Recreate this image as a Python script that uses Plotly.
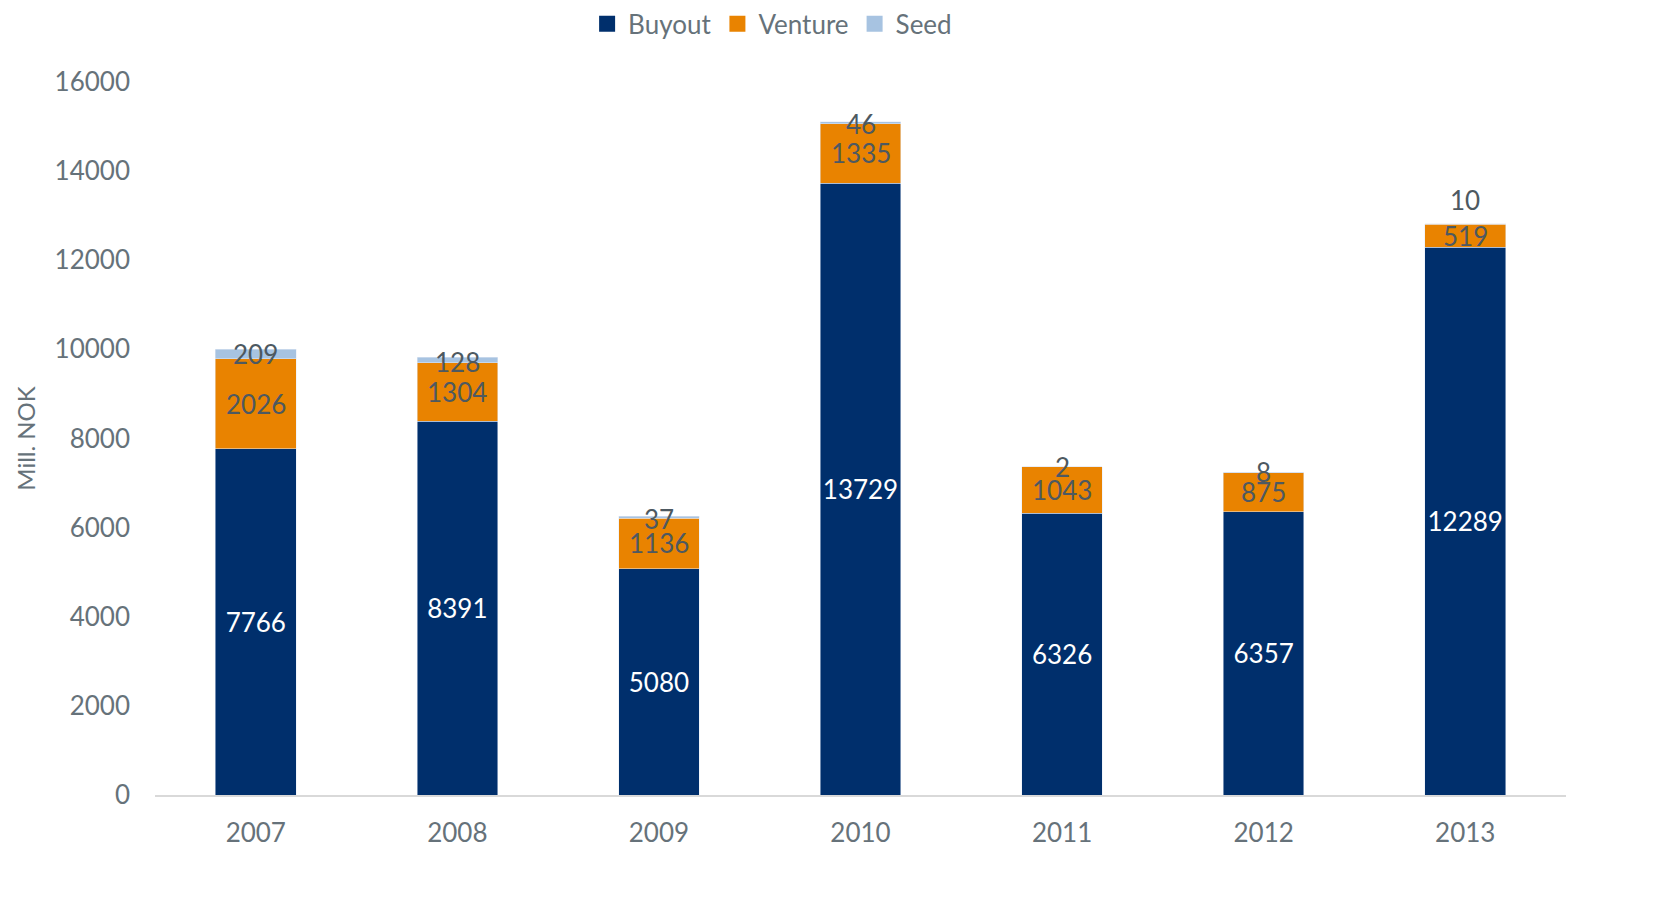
import plotly.graph_objects as go

years = ["2007", "2008", "2009", "2010", "2011", "2012", "2013"]
buyout = [7766, 8391, 5080, 13729, 6326, 6357, 12289]
venture = [2026, 1304, 1136, 1335, 1043, 875, 519]
seed = [209, 128, 37, 46, 2, 8, 10]

C_BUY = "#002F6C"
C_VEN = "#E98300"
C_SEED = "#A7C3E1"
C_TXT = "#4D5961"
C_TICK = "#66727A"
FONT = "Lato"

# small per-label vertical nudges (pixels) for the seed labels
seed_shift = [-5, -5, -3, -2, 0, 0, 24]

fig = go.Figure()
fig.add_trace(go.Bar(x=years, y=buyout, name="Buyout", marker_color=C_BUY,
                     text=[str(v) for v in buyout], textposition="inside",
                     insidetextanchor="middle", textangle=0, constraintext="none",
                     textfont=dict(color="white", size=26, family=FONT),
                     showlegend=False))
fig.add_trace(go.Bar(x=years, y=venture, name="Venture", marker_color=C_VEN,
                     showlegend=False))
fig.add_trace(go.Bar(x=years, y=seed, name="Seed", marker_color=C_SEED,
                     showlegend=False))

# legend entries with larger square swatches
for name, col in [("Buyout", C_BUY), ("Venture", C_VEN), ("Seed", C_SEED)]:
    fig.add_trace(go.Scatter(x=[None], y=[None], mode="markers", name=name,
                             marker=dict(symbol="square", size=17, color=col),
                             showlegend=True, hoverinfo="skip"))

for i, yr in enumerate(years):
    fig.add_annotation(x=i, y=buyout[i] + venture[i] / 2, text=str(venture[i]),
                       showarrow=False, font=dict(color=C_TXT, size=26, family=FONT),
                       yanchor="middle")
    top = buyout[i] + venture[i] + seed[i]
    fig.add_annotation(x=i, y=top, text=str(seed[i]), showarrow=False,
                       font=dict(color=C_TXT, size=26, family=FONT),
                       yanchor="middle", yshift=seed_shift[i])

fig.update_layout(
    barmode="stack",
    bargap=0.6,
    width=1645, height=882,
    margin=dict(l=147, r=87, t=74, b=95),
    paper_bgcolor="white", plot_bgcolor="white",
    font=dict(family=FONT, color=C_TICK, size=26),
    legend=dict(orientation="h", x=0.437, xanchor="center", y=0.982, yref="container",
                yanchor="middle", font=dict(size=26, color=C_TICK, family=FONT),
                itemwidth=32, traceorder="normal"),
    showlegend=True,
)
fig.update_xaxes(type="category", range=[-0.5, len(years) - 0.5], autorange=False,
                 showline=True, linecolor="#D9D9D9", linewidth=1.5,
                 ticks="", ticklabelstandoff=14,
                 tickfont=dict(size=26, color=C_TICK, family=FONT),
                 showgrid=False)
fig.update_yaxes(range=[0, 16000], dtick=2000, showgrid=False, zeroline=False,
                 tickformat="d", ticks="", ticklen=0, ticklabelstandoff=24,
                 tickfont=dict(size=26, color=C_TICK, family=FONT),
                 title=dict(text="Mill. NOK", font=dict(size=24, color=C_TICK, family=FONT),
                            standoff=12))

fig.write_html("out.html")
